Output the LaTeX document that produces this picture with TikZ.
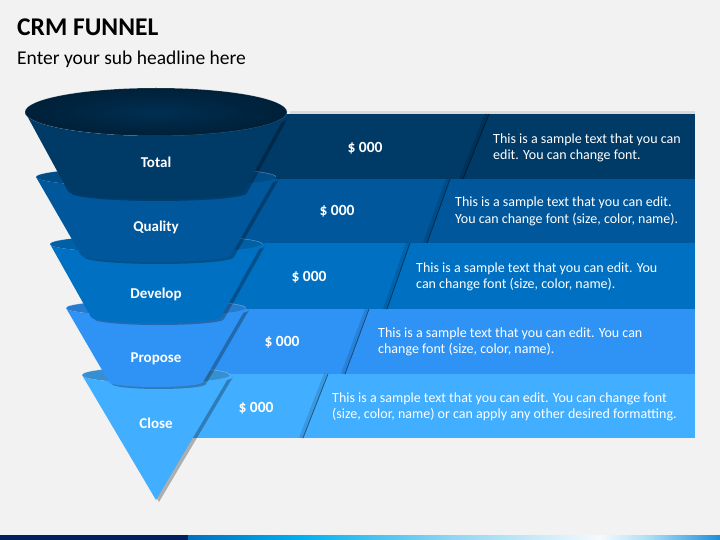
\documentclass[tikz,border=0pt]{standalone}
\usepackage{fontspec}
\setmainfont{Carlito}
\definecolor{bgc}{HTML}{F2F2F2}
\definecolor{cA}{HTML}{003A66}
\definecolor{cB}{HTML}{00579B}
\definecolor{cC}{HTML}{0070C2}
\definecolor{cD}{HTML}{2E93F5}
\definecolor{cE}{HTML}{42AEFF}
\definecolor{navy}{HTML}{002060}
\definecolor{gA}{HTML}{0070C0}
\definecolor{gB}{HTML}{00B0F0}
\definecolor{gC}{HTML}{8FD5F3}
\definecolor{gD}{HTML}{F5FAFD}
\definecolor{gE}{HTML}{A9DDF5}
\definecolor{gF}{HTML}{1B8FDB}
\begin{document}
\begin{tikzpicture}[x=1pt,y=-1pt,
  valtext/.style={anchor=base, inner sep=0pt, text=white, font=\fontsize{15.5}{18}\selectfont\bfseries},
  lbltext/.style={anchor=base, inner sep=0pt, text=white, font=\fontsize{15}{18}\selectfont\bfseries},
  desc/.style={anchor=base west, inner sep=0pt, text=white, align=left, font=\fontsize{14}{16.5}\selectfont},
  divline/.style={draw=black, draw opacity=0.45, line width=0.8pt},
  divshade/.style={draw=black, draw opacity=0.12, line width=4pt},
  segshadow/.style={fill=black, fill opacity=0.28},
  rimedge/.style={draw=white, draw opacity=0.35, line width=0.5pt}
]
\useasboundingbox (0,0) rectangle (720,540);
\fill[bgc] (0,0) rectangle (720,540);

% titles
\node[anchor=base west, inner sep=0pt, font=\fontsize{25.5}{30}\selectfont\bfseries] (title) at (17,36) {CRM FUNNEL};
\node[anchor=base west, inner sep=0pt, font=\fontsize{19.5}{24}\selectfont] (sub) at (17,65) {Enter your sub headline here};

% bands
\fill[black, fill opacity=0.10] (290,111) rectangle (695,114);
\fill[cA] (156,114) rectangle (695,179);
\fill[cB] (156,179) rectangle (695,243);
\fill[cC] (156,243) rectangle (695,309);
\fill[cD] (156,309) rectangle (695,374);
\fill[cE] (156,374) rectangle (695,438);

% dividers
\draw[divshade] (487,114) -- (461,179);
\draw[divline] (489,114) -- (463,179);
\draw[divshade] (448,179) -- (425,243);
\draw[divline] (450,179) -- (427,243);
\draw[divshade] (408,243) -- (385,309);
\draw[divline] (410,243) -- (387,309);
\draw[divshade] (367,309) -- (343,374);
\draw[divline] (369,309) -- (345,374);
\draw[divshade] (326,374) -- (301,438);
\draw[divline] (328,374) -- (303,438);

% values
\node[valtext] (v1) at (365,153) {\$ 000};
\node[valtext] (v2) at (337,215) {\$ 000};
\node[valtext] (v3) at (309,281) {\$ 000};
\node[valtext] (v4) at (282,346) {\$ 000};
\node[valtext] (v5) at (256,412) {\$ 000};

% descriptions (anchor = baseline of last line)
\node[desc] (d1) at (493,160) {This is a sample text that you can\\edit. You can change font.};
\node[desc] (d2) at (455,223) {This is a sample text that you can edit.\\You can change font (size, color, name).};
\node[desc] (d3) at (416,288.5) {This is a sample text that you can edit. You\\can change font (size, color, name).};
\node[desc] (d4) at (378,353.5) {This is a sample text that you can edit. You can\\change font (size, color, name).};
\node[desc] (d5) at (332,418.5) {This is a sample text that you can edit. You can change font\\(size, color, name) or can apply any other desired formatting.};

% ---- funnel: Close
\fill[segshadow, xshift=3pt, yshift=-2pt] (230,375) arc[start angle=0,end angle=-180,x radius=74pt,y radius=8pt] -- (156,500) -- cycle;
\fill[cE!82!black] (156,375) ellipse[x radius=74pt, y radius=8pt];
\draw[rimedge] (230,375) arc[start angle=0,end angle=180,x radius=74pt,y radius=8pt];
\fill[cE] (230,375) arc[start angle=0,end angle=-180,x radius=74pt,y radius=8pt] -- (156,500) -- cycle;

% ---- Propose
\fill[segshadow, xshift=3pt, yshift=-2pt] (246,308) arc[start angle=0,end angle=-180,x radius=90pt,y radius=8pt] -- (109,382) arc[start angle=180,end angle=360,x radius=47pt,y radius=5pt] -- cycle;
\fill[cD!84!black] (156,308) ellipse[x radius=90pt, y radius=8pt];
\draw[rimedge] (246,308) arc[start angle=0,end angle=180,x radius=90pt,y radius=8pt];
\fill[cD] (246,308) arc[start angle=0,end angle=-180,x radius=90pt,y radius=8pt] -- (109,382) arc[start angle=180,end angle=360,x radius=47pt,y radius=5pt] -- cycle;

% ---- Develop
\fill[segshadow, xshift=3pt, yshift=-2pt] (262,244) arc[start angle=0,end angle=-180,x radius=106pt,y radius=9pt] -- (91,317) arc[start angle=180,end angle=360,x radius=65pt,y radius=6pt] -- cycle;
\fill[cC!85!black] (156,244) ellipse[x radius=106pt, y radius=9pt];
\draw[rimedge] (262,244) arc[start angle=0,end angle=180,x radius=106pt,y radius=9pt];
\fill[cC] (262,244) arc[start angle=0,end angle=-180,x radius=106pt,y radius=9pt] -- (91,317) arc[start angle=180,end angle=360,x radius=65pt,y radius=6pt] -- cycle;

% ---- Quality
\fill[segshadow, xshift=3pt, yshift=-2pt] (276,177) arc[start angle=0,end angle=-180,x radius=120pt,y radius=10pt] -- (81,255) arc[start angle=180,end angle=360,x radius=75pt,y radius=7pt] -- cycle;
\fill[cB!87!black] (156,177) ellipse[x radius=120pt, y radius=10pt];
\draw[rimedge] (276,177) arc[start angle=0,end angle=180,x radius=120pt,y radius=10pt];
\fill[cB] (276,177) arc[start angle=0,end angle=-180,x radius=120pt,y radius=10pt] -- (81,255) arc[start angle=180,end angle=360,x radius=75pt,y radius=7pt] -- cycle;

% ---- Total
\fill[segshadow, xshift=3pt, yshift=-2pt] (287,112) arc[start angle=0,end angle=-180,x radius=131pt,y radius=24pt] -- (68,191) arc[start angle=180,end angle=360,x radius=88pt,y radius=8pt] -- cycle;
\shade[inner color=cA!80!black, outer color=cA!55!black] (156,112) ellipse[x radius=131pt, y radius=24pt];
\draw[draw=white, draw opacity=0.25, line width=0.6pt] (156,112) ellipse[x radius=131pt, y radius=24pt];
\fill[cA] (287,112) arc[start angle=0,end angle=-180,x radius=131pt,y radius=24pt] -- (68,191) arc[start angle=180,end angle=360,x radius=88pt,y radius=8pt] -- cycle;

% labels
\node[lbltext] (l1) at (156,168) {Total};
\node[lbltext] (l2) at (156,232) {Quality};
\node[lbltext] (l3) at (156,298) {Develop};
\node[lbltext] (l4) at (156,362) {Propose};
\node[lbltext] (l5) at (156,428) {Close};

% bottom bar
\fill[navy] (0,535) rectangle (188.5,540);
\shade[left color=gA, right color=gB] (188,535) rectangle (300.5,540);
\shade[left color=gB, right color=gC] (300,535) rectangle (450.5,540);
\shade[left color=gC, right color=gD] (450,535) rectangle (600.5,540);
\shade[left color=gD, right color=gE] (600,535) rectangle (650.5,540);
\shade[left color=gE, right color=gF] (650,535) rectangle (720,540);
\end{tikzpicture}
\end{document}
